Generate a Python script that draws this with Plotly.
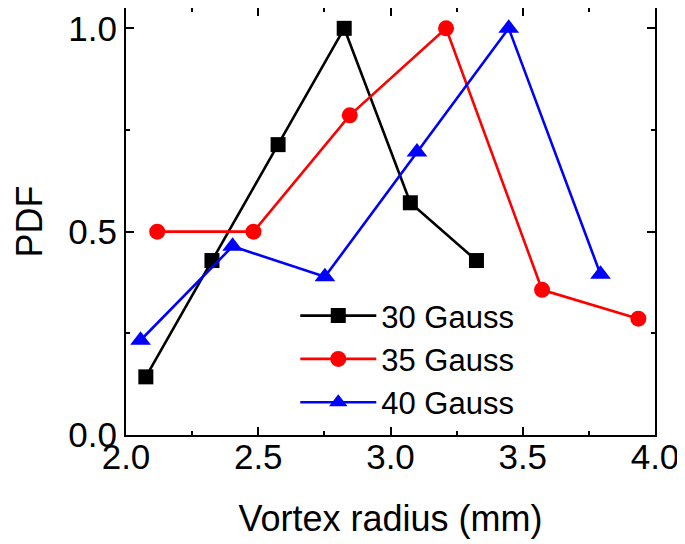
import plotly.graph_objects as go

x30 = [2.075, 2.325, 2.575, 2.825, 3.075, 3.325]
y30 = [0.143, 0.429, 0.714, 1.0, 0.571, 0.429]
x35 = [2.118, 2.482, 2.846, 3.21, 3.573, 3.937]
y35 = [0.5, 0.5, 0.786, 1.0, 0.357, 0.286]
x40 = [2.055, 2.403, 2.752, 3.100, 3.447, 3.794]
y40 = [0.233, 0.464, 0.389, 0.696, 1.0, 0.395]

names = ["30 Gauss", "35 Gauss", "40 Gauss"]
colors = ["#000000", "#ff0000", "#0000ff"]
symbols = ["square", "circle", "triangle-up"]
sizes = [15, 16, 18]

FONT = "Arial, Liberation Sans, sans-serif"

fig = go.Figure()
for xs, ys, n, c, s, sz in zip([x30, x35, x40], [y30, y35, y40], names, colors, symbols, sizes):
    fig.add_trace(go.Scatter(x=xs, y=ys, name=n, mode="lines+markers",
                             line=dict(color=c, width=2.6),
                             marker=dict(symbol=s, size=sz, color=c, line=dict(width=0))))

axis_common = dict(showline=True, linecolor="black", linewidth=2, mirror="allticks",
                   ticks="inside", ticklen=8, tickwidth=1.5, tickcolor="black",
                   showgrid=False, zeroline=False, automargin=False,
                   tickfont=dict(family=FONT, size=35, color="black"),
                   minor=dict(ticks="inside", ticklen=4, tickwidth=1.5, tickcolor="black", showgrid=False))

fig.update_xaxes(range=[2.0, 4.0], tickvals=[2.0, 2.5, 3.0, 3.5, 4.0], ticktext=["2.0", "2.5", "3.0", "3.5", "4.0"],
                 minor_dtick=0.25, ticklabelstandoff=-10,
                 title=dict(text="Vortex radius (mm)", font=dict(family=FONT, size=36, color="black"), standoff=31),
                 **axis_common)
fig.update_yaxes(range=[0.0, 1.05], tickvals=[0.0, 0.5, 1.0], ticktext=["0.0", "0.5", "1.0"],
                 minor_dtick=0.25, ticklabelstandoff=0,
                 title=dict(text="PDF", font=dict(family=FONT, size=36, color="black"), standoff=15),
                 **axis_common)

# page body has an 8px default margin, so the figure is sized to fit inside it
fig.update_layout(width=677, height=536, margin=dict(l=118, r=30, t=0, b=109),
                  paper_bgcolor="white", plot_bgcolor="white",
                  font=dict(family=FONT, color="black"),
                  legend=dict(x=0.32, y=0.342, xanchor="left", yanchor="top",
                              bgcolor="rgba(0,0,0,0)", itemwidth=76,
                              font=dict(family=FONT, size=31, color="black"),
                              tracegroupgap=0))

fig.write_html("out.html")
